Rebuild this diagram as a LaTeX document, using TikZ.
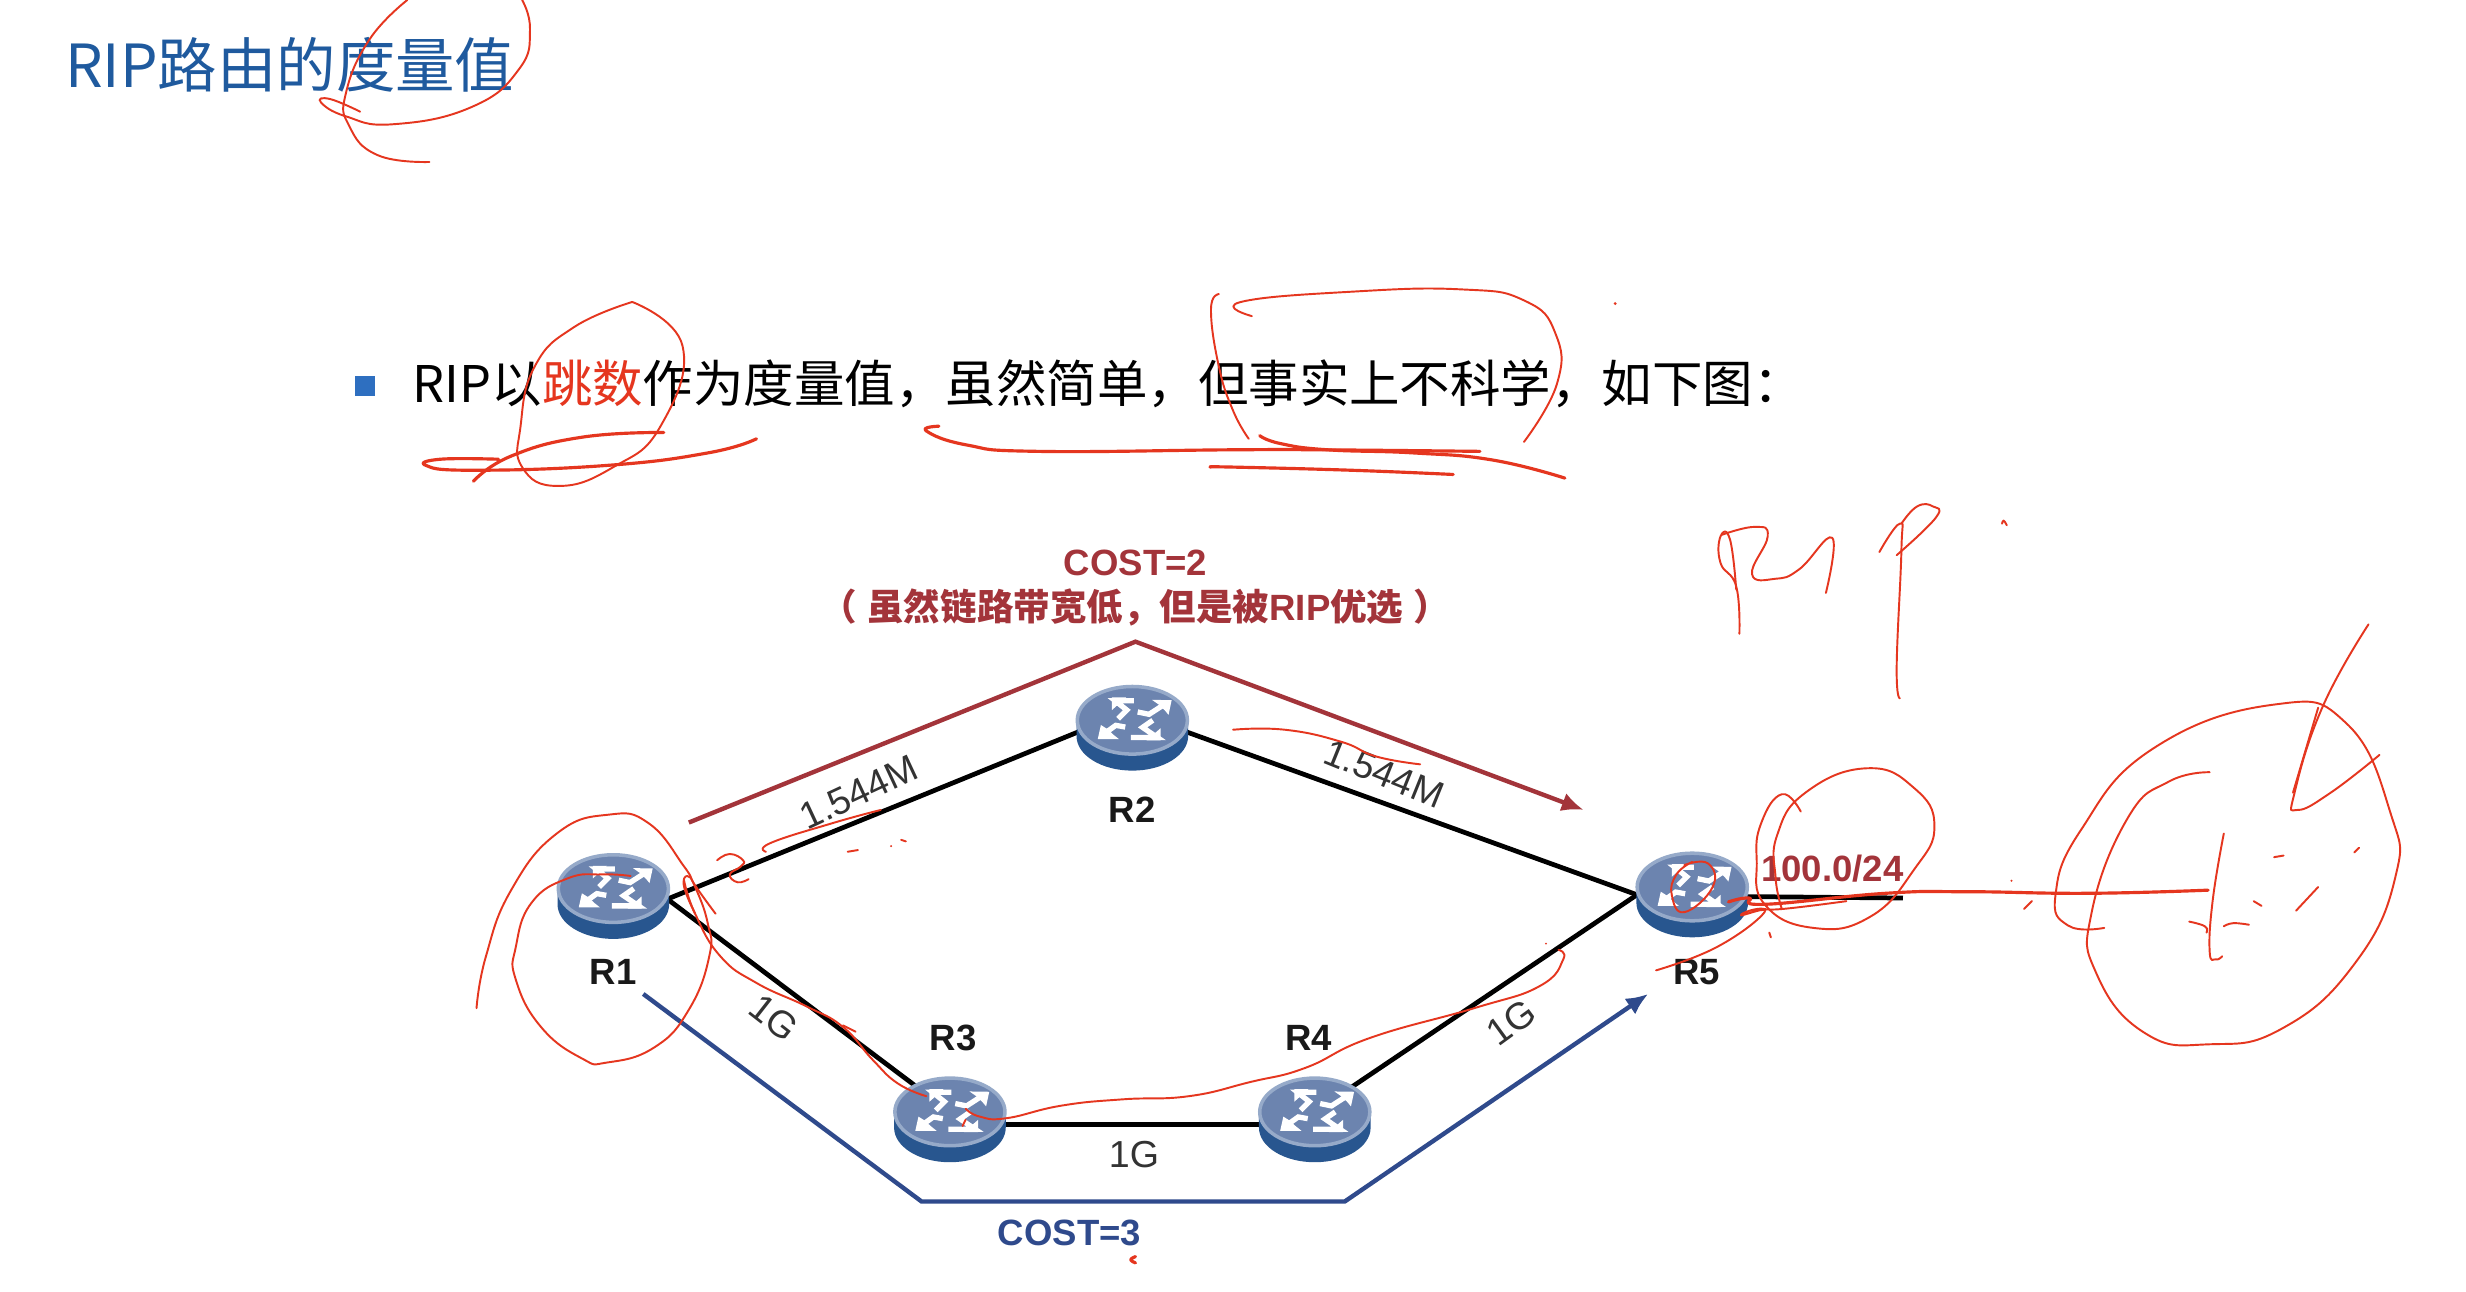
\documentclass[tikz,border=0pt]{standalone}
\usepackage{fontspec}
\usetikzlibrary{arrows.meta,shapes.geometric}
\setmainfont{Liberation Sans}
\newfontfamily\cjk{Noto Sans CJK SC}
\definecolor{titleblue}{HTML}{1F5A9E}
\definecolor{bulletblue}{HTML}{2E6FC0}
\definecolor{inkred}{HTML}{E5361F}
\definecolor{costred}{HTML}{A3343A}
\definecolor{costblue}{HTML}{2F4A8C}
\definecolor{routertop}{HTML}{6C84AF}
\definecolor{routerrim}{HTML}{96AAC9}
\definecolor{routerbase}{HTML}{28568F}
\newcommand{\fs}[1]{\fontsize{#1}{#1}\selectfont}
\newcommand{\inkline}[2][]{\draw[ink,#1] plot[smooth,tension=.8] coordinates {#2};}
\tikzset{
  routernode/.style={ellipse,inner sep=0pt,minimum width=11.2mm,minimum height=6.8mm},
  link/.style={draw=black,line width=1.35pt},
  redroute/.style={draw=costred,line width=1.25pt,-{Latex[length=2.2mm,width=1.9mm]}},
  blueroute/.style={draw=costblue,line width=1.25pt,-{Latex[length=2.2mm,width=1.9mm]}},
  rlabel/.style={font=\fs{10.4}\bfseries,text=black!90,inner sep=0pt},
  blabel/.style={font=\fs{10.7},text=black!80,inner sep=0pt},
  costtext/.style={font=\fs{10.4}\bfseries,inner sep=0pt},
  ink/.style={draw=inkred,line width=.55pt,line cap=round,line join=round},
  inkthick/.style={line width=.9pt},
  iconline/.style={draw=white,line width=1.5pt,line join=miter},
  routerpic/.pic={
    \fill[routerbase] (-35.5,10) arc[x radius=35.5,y radius=-22,start angle=180,end angle=360] -- (35.5,0) -- (-35.5,0) -- cycle;
    \draw[fill=routertop,draw=routerrim,line width=1pt] (0,0) ellipse[x radius=35,y radius=21.5];
    \draw[iconline] (3.4,-5.3) -- (10.6,-3.8) -- (21,-10.5);
    \fill[white] (25,-12.8) -- (12.5,-13) -- (16.5,-10.2) -- (20.5,-6.5) -- (23,-3.5) -- cycle;
    \draw[iconline] (-4.5,4.3) -- (-10.5,3.2) -- (-20,10);
    \fill[white] (-22,12) -- (-8.5,12) -- (-12,9.2) -- (-16,5.5) -- (-20,3) -- cycle;
    \draw[iconline] (1,-12.5) -- (-11,-12.5) -- (-3.5,-6.5) -- (-9,-1);
    \fill[white] (-13,-14.5) -- (-4,-14.5) -- (-13,-6.5) -- cycle;
    \draw[iconline] (-1,11) -- (16,11) -- (6.5,4.5) -- (13,0);
    \fill[white] (18,12.8) -- (9,12.8) -- (18,5) -- cycle;
  }
}
\begin{document}
\begin{tikzpicture}[x=0.15727mm,y=-0.15727mm]
\useasboundingbox (0,0) rectangle (1568,821.5);
\fill[white] (0,0) rectangle (1568,821.5);

% heading and bullet line
\node[anchor=west,inner sep=0pt,text=titleblue,font=\cjk\fs{16.9}] (title) at (41,41) {RIP路由的度量值};
\node[draw=none,fill=bulletblue,minimum width=2mm,minimum height=2mm,inner sep=0pt] (bullet) at (232,245.5) {};
\node[anchor=west,inner sep=0pt,font=\cjk\fs{14.36}] (body) at (262,244) {RIP以\textcolor{inkred}{跳数}作为度量值，虽然简单，但事实上不科学，如下图：};

% routers (anchors for the connectors)
\node[routernode] (R1) at (390,565) {};
\node[routernode] (R2) at (720,458) {};
\node[routernode] (R3) at (604,707) {};
\node[routernode] (R4) at (836,707) {};
\node[routernode] (R5) at (1076,564) {};
\coordinate (stub) at (1210,571);
\coordinate (ra) at (438,523);
\coordinate (rb) at (722,408);
\coordinate (rc) at (1007,515);
\coordinate (ba) at (409,632);
\coordinate (bb) at (586,764);
\coordinate (bc) at (855,764);
\coordinate (bd) at (1048,632);

% links
\draw[link] (R1.-11) -- (R2.192);
\draw[link] (R2.-12) -- (R5.188);
\draw[link] (R1.-11) -- (R3.center);
\draw[link] (R3.-13) -- (R4.193);
\draw[link] (R4.center) -- (R5.188);
\draw[link] (R5.-10) -- (stub);

% route arrows
\draw[redroute] (ra) -- (rb) -- (rc);
\draw[blueroute] (ba) -- (bb) -- (bc) -- (bd);

% router icons
\pic at (R1) {routerpic};
\pic at (R2) {routerpic};
\pic at (R3) {routerpic};
\pic at (R4) {routerpic};
\pic at (R5) {routerpic};

% labels
\node[rlabel] (lR1) at (390,618) {R1};
\node[rlabel] (lR2) at (720,515) {R2};
\node[rlabel] (lR3) at (606,660) {R3};
\node[rlabel] (lR4) at (832,660) {R4};
\node[rlabel] (lR5) at (1079,618) {R5};
\node[blabel,rotate=25] (b1) at (546,504) {1.544M};
\node[blabel,rotate=-22] (b2) at (880,492) {1.544M};
\node[blabel,rotate=-38] (b3) at (492,647) {1G};
\node[blabel] (b4) at (721,734) {1G};
\node[blabel,rotate=36] (b5) at (961,650) {1G};
\node[costtext,text=costred] (c2) at (722,358) {COST=2};
\node[costtext,text=costred] (c2b) at (722,386) {{\cjk\bfseries （} {\cjk\bfseries 虽然链路带宽低，但是被}RIP{\cjk\bfseries 优选} {\cjk\bfseries ）}};
\node[costtext,text=costblue] (c3) at (680,784) {COST=3};
\node[costtext,text=costred] (net) at (1165,552) {100.0/24};

% handwritten strokes: title
\inkline{(259,0)(235,25)(220,59)(222,80)(240,98.6)(273,103)}
\inkline{(332,0)(337,19)(330,44)(300,68)(250,79)(220,74)(204,65)(210,63)(229,71)}
% hop count
\inkline{(402,192)(434,220)(420,271)(390,297)(355,309)(332,297)(331,271)(340,233)(365,208)(402,192)}
\inkline[inkthick]{(301,306)(325,290)(370,278)(422,275)}
\inkline[inkthick]{(317,292)(280,292)(271,296)(300,299)(385,296)(450,288)(481,279)}
% long underlines
\inkline[inkthick]{(597,271)(589,274)(615,283)(660,287)(784,286)(839,286)(941,287)}
\inkline[inkthick]{(801,277)(814,282)(844,286)(899,288)(949,292.5)(995,304)}
\inkline[inkthick]{(770,297)(784,297)(859,299)(924,301.7)}
\inkline{(796,201)(789,192)(859,185.5)(929,184)(969,191)(989,212)(990,244)(969,281)}
\inkline{(775,187)(770,197)(775,233)(784,261)(794,279)}
\fill[inkred] (1027,193) circle[radius=1];
% RIP
\inkline{(1106,403)(1104,373)(1094,358)(1094,341)(1100,343)(1104,375)}
\inkline{(1095,340)(1116,335)(1124,341)(1114,365)(1129,368)(1144,362)(1165,342)(1161,377)}
\inkline{(1208,444)(1206,424)(1209,350)(1208,333)(1195,351)}
\inkline{(1206,353)(1231,329)(1229,322)(1219,322)(1209,333)}
\inkline{(1273,333)(1274,331)(1276,334)}
% ground symbol
\inkline{(1338,590)(1315,588.5)(1307,569)(1323,528)(1369,476)(1446,448)(1492,460)(1520,517)(1523,558)(1497,613)(1451,654)(1405,664)(1364,657)(1333,619)(1330,580)(1353,520)(1379,497)(1405,491)}
\inkline{(1506,397)(1477,449)(1459,504)(1461,515)(1482,504)(1513,480)}
\inkline{(1474,450)(1458,504)}
\inkline[inkthick]{(1099,573.5)(1112,571)(1122,575)(1199,568)(1251,567)(1328,568)(1404,566)}
\inkline{(1414,530)(1407,572)(1405,605)(1409,610)(1413,608)}
\inkline{(1392,586)(1402,589)(1403,593)}
\inkline{(1414,589)(1420,587)(1430,588)}
\inkline{(1433,573)(1438,576)}
\inkline{(1460,579)(1474,564)}
\inkline{(1446,545)(1452,544)}
\inkline{(1497,542)(1500,539)}
\inkline{(1287,578)(1292,573)}
\fill[inkred] (1279,560) circle[radius=.7];
% circle around prefix and into R5
\inkline{(1145,516)(1133,505)(1120,523)(1117,547)(1122,575)(1153,590)(1189,583)(1217,553)(1230,525.5)(1217,501)(1187,488.5)(1148,504)(1130,531)(1129,558)(1133,578)}
\inkline{(1071,550)(1086,549)(1089,564)(1071,580)(1063,569)(1066,556)(1076,548)}
\inkline{(1053,617)(1092,602)(1122,580)(1107,582)(1117,578)(1133,578)(1174,573)}
\inkline{(1125,593)(1126,596)}
% R1 circles
\inkline{(401,557)(383,556)(361,558.5)(338,574)(328,602)(328,623)(344,653)(370,673)(386,675.6)(416,666)(438,642)(451,608)(450,587)(442,564)(437,557)(435,564)(442,581)}
\inkline{(303,641)(309,608)(325,566)(354,530)(387,518)(412.5,523.5)(435,551)(442,563)(455,581)}
% path R1 - R3 - R4 - R5
\inkline{(435,560)(442,581)(458,608)(481,625)(513,640)(536,653)(555,674)(571,689)(589,697)}
\inkline{(536,652)(544,656)}
\inkline{(614,705)(623,710)(640,711)(675,703)(714,699)(756,697)(795,688)(830,679)(871,660)(937.5,641)(979,627)(994,610)(991,604)}
\fill[inkred] (983,600) circle[radius=.7];
\inkline{(614,712)(612,716)}
\inkline[inkthick]{(722,799)(719,801)(722,803)}
% R1 - R2
\inkline{(456,547)(464,543)(472.5,547)(471,551)(464,556)(469,561)(476,559)}
\inkline{(487,541.6)(490,536)(529,523.5)(560,515)}
\inkline{(539,541.6)(545.5,540.5)}
\fill[inkred] (566.6,538) circle[radius=.7];
\inkline{(573,534)(576,535)}
% R2 - R5
\inkline{(784,464)(817,464)(852.6,471.6)(875,481)(903,486)}
\end{tikzpicture}
\end{document}
